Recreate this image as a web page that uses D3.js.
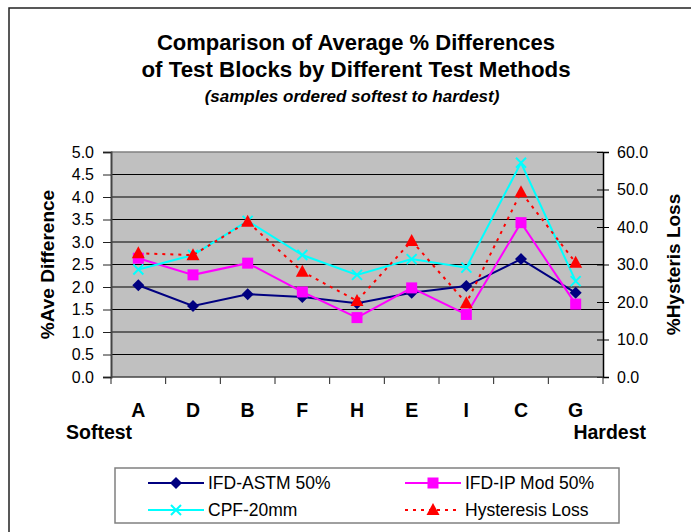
<!DOCTYPE html>
<html>
<head>
<meta charset="utf-8">
<script src="https://cdn.jsdelivr.net/npm/d3@7"></script>
<style>
  body { margin: 0; background: #fff; }
  svg { display: block; font-family: "Liberation Sans", Arial, sans-serif; }
</style>
</head>
<body>
<div id="chart"></div>
<script>
const samples = ["A", "D", "B", "F", "H", "E", "I", "C", "G"]
const leftTicks = [0, 0.5, 1, 1.5, 2, 2.5, 3, 3.5, 4, 4.5, 5]
const rightTicks = [0, 10, 20, 30, 40, 50, 60]

// left axis (%Ave Difference)
const ifdAstm = [2.04, 1.58, 1.84, 1.78, 1.64, 1.87, 2.02, 2.62, 1.87]
const ifdIpMod = [2.64, 2.27, 2.53, 1.89, 1.32, 1.98, 1.39, 3.43, 1.62]
const cpf20 = [2.39, 2.71, 3.47, 2.71, 2.27, 2.62, 2.43, 4.76, 2.13]
// right axis (%Hysteris Loss)
const hysteresis = [33.0, 32.5, 41.4, 28.1, 20.3, 36.3, 19.7, 49.3, 30.5]

const W = 691, H = 532
const plot = { left: 111, right: 603, top: 152, bottom: 377 }

const svg = d3.select("#chart").append("svg")
    .attr("width", W).attr("height", H)

// outer frame (only left/top visible)
svg.append("rect")
    .attr("x", 9).attr("y", 8).attr("width", W + 10).attr("height", H + 10)
    .attr("fill", "#fff").attr("stroke", "#222").attr("stroke-width", 1.5)

// titles
const title = svg.append("g").attr("text-anchor", "middle")
title.append("text").attr("x", 356).attr("y", 50)
    .attr("font-size", 22).attr("font-weight", "bold").text("Comparison of Average % Differences")
title.append("text").attr("x", 356).attr("y", 77)
    .attr("font-size", 22.3).attr("font-weight", "bold").text("of Test Blocks by Different Test Methods")
title.append("text").attr("x", 352).attr("y", 102)
    .attr("font-size", 17).attr("font-weight", "bold").attr("font-style", "italic")
    .text("(samples ordered softest to hardest)")

const x = d3.scaleBand().domain(samples).range([plot.left, plot.right])
const yL = d3.scaleLinear().domain([0, 5]).range([plot.bottom, plot.top])
const yR = d3.scaleLinear().domain([0, 60]).range([plot.bottom, plot.top])

// plot background
svg.append("rect")
    .attr("x", plot.left).attr("y", plot.top)
    .attr("width", plot.right - plot.left).attr("height", plot.bottom - plot.top)
    .attr("fill", "#c0c0c0")

// gridlines
svg.append("g").selectAll("line")
    .data(leftTicks.filter(d => d > 0 && d < 5))
    .join("line")
    .attr("x1", plot.left).attr("x2", plot.right)
    .attr("y1", d => yL(d)).attr("y2", d => yL(d))
    .attr("stroke", "#000").attr("stroke-width", 1)
svg.append("line")
    .attr("x1", plot.left).attr("x2", plot.right)
    .attr("y1", plot.top).attr("y2", plot.top)
    .attr("stroke", "#808080").attr("stroke-width", 1.5)

// left axis
const gl = svg.append("g").attr("transform", `translate(${plot.left},0)`)
    .call(d3.axisLeft(yL).tickValues(leftTicks).tickFormat(d3.format(".1f")).tickSize(8).tickPadding(9))
gl.select(".domain").attr("stroke", "#444").attr("stroke-width", 2)
gl.selectAll(".tick line").attr("stroke", "#222")
gl.selectAll("text").attr("font-size", 16).attr("fill", "#000").attr("font-family", "Liberation Sans, Arial")

// right axis
const gr = svg.append("g").attr("transform", `translate(${plot.right},0)`)
    .call(d3.axisRight(yR).tickValues(rightTicks).tickFormat(d3.format(".1f")).tickSize(6).tickPadding(8))
gr.select(".domain").attr("stroke", "#000").attr("stroke-width", 1.5)
gr.selectAll(".tick line").attr("stroke", "#000").attr("x1", -6)
gr.selectAll("text").attr("font-size", 16).attr("fill", "#000").attr("font-family", "Liberation Sans, Arial")

// bottom axis: ticks at category boundaries
const bounds = samples.map(d => x(d)).concat([plot.right])
svg.append("g").selectAll("line")
    .data(bounds).join("line")
    .attr("x1", d => d).attr("x2", d => d)
    .attr("y1", plot.bottom).attr("y2", plot.bottom + 7)
    .attr("stroke", "#222")
svg.append("line")
    .attr("x1", plot.left).attr("x2", plot.right)
    .attr("y1", plot.bottom).attr("y2", plot.bottom)
    .attr("stroke", "#444").attr("stroke-width", 1.5)
svg.append("g").selectAll("text")
    .data(samples).join("text")
    .attr("x", d => x(d) + x.bandwidth() / 2)
    .attr("y", 417)
    .attr("text-anchor", "middle")
    .attr("font-size", 19.5).attr("font-weight", "bold")
    .text(d => d)
svg.append("text").attr("x", 66).attr("y", 439)
    .attr("font-size", 19.5).attr("font-weight", "bold").text("Softest")
svg.append("text").attr("x", 646).attr("y", 439).attr("text-anchor", "end")
    .attr("font-size", 19.5).attr("font-weight", "bold").text("Hardest")

// axis titles
svg.append("text")
    .attr("transform", `translate(54,${(plot.top + plot.bottom) / 2}) rotate(-90)`)
    .attr("text-anchor", "middle").attr("font-size", 19).attr("font-weight", "bold")
    .text("%Ave Difference")
svg.append("text")
    .attr("transform", `translate(680,${(plot.top + plot.bottom) / 2}) rotate(-90)`)
    .attr("text-anchor", "middle").attr("font-size", 19).attr("font-weight", "bold")
    .text("%Hysteris Loss")

const cx = d => x(d) + x.bandwidth() / 2

const series = [
    { name: "IFD-ASTM 50%", values: ifdAstm, y: yL, color: "#000080", marker: "diamond", dash: null },
    { name: "IFD-IP Mod 50%", values: ifdIpMod, y: yL, color: "#ff00ff", marker: "square", dash: null },
    { name: "CPF-20mm", values: cpf20, y: yL, color: "#00ffff", marker: "x", dash: null },
    { name: "Hysteresis Loss", values: hysteresis, y: yR, color: "#ff0000", marker: "triangle", dash: "3,5" }
]

function drawMarker(g, type, color) {
    if (type === "diamond") {
        g.append("path").attr("d", "M0,-6L6,0L0,6L-6,0Z").attr("fill", color)
    } else if (type === "square") {
        g.append("rect").attr("x", -5.5).attr("y", -5.5).attr("width", 11).attr("height", 11).attr("fill", color)
    } else if (type === "x") {
        g.append("path").attr("d", "M-5,-5L5,5M-5,5L5,-5").attr("stroke", color).attr("stroke-width", 2).attr("fill", "none")
    } else if (type === "triangle") {
        g.append("path").attr("d", "M0,-7L6.5,5L-6.5,5Z").attr("fill", color)
    }
}

const line = d3.line()
series.forEach(s => {
    const pts = samples.map((d, i) => [cx(d), s.y(s.values[i])])
    svg.append("path")
        .attr("d", line(pts))
        .attr("fill", "none")
        .attr("stroke", s.color)
        .attr("stroke-width", 2)
        .attr("stroke-dasharray", s.dash)
    pts.forEach(p => {
        const g = svg.append("g").attr("transform", `translate(${p[0]},${p[1]})`)
        drawMarker(g, s.marker, s.color)
    })
})

// legend
svg.append("rect")
    .attr("x", 115).attr("y", 468).attr("width", 504).attr("height", 55)
    .attr("fill", "#fff").attr("stroke", "#808080").attr("stroke-width", 1.5)
const legendPos = [[148, 483], [405, 483], [148, 510], [405, 510]]
series.forEach((s, i) => {
    const [lx, ly] = legendPos[i]
    const g = svg.append("g").attr("transform", `translate(${lx},${ly})`)
    g.append("line").attr("x1", 0).attr("x2", 56).attr("y1", 0).attr("y2", 0)
        .attr("stroke", s.color).attr("stroke-width", 2).attr("stroke-dasharray", s.dash)
    const m = g.append("g").attr("transform", "translate(28,0)")
    drawMarker(m, s.marker, s.color)
    g.append("text").attr("x", 60).attr("y", 6).attr("font-size", 17.5).text(s.name)
})
</script>
</body>
</html>
